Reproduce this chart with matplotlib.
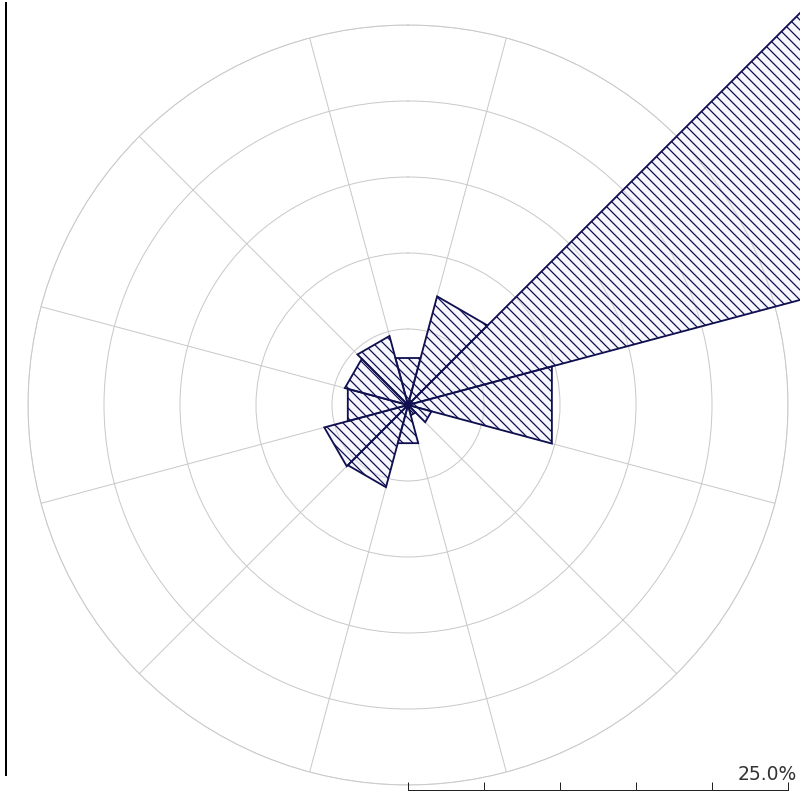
import numpy as np
import matplotlib
matplotlib.use("Agg")
import matplotlib.pyplot as plt
from matplotlib.lines import Line2D

# wind rose data: sector centres (deg clockwise from N) and frequency (%)
directions = [0, 30, 60, 90, 120, 150, 180, 210, 240, 270, 300, 330]
freq = [3.2, 7.4, 40.0, 9.8, 1.6, 0.7, 2.6, 5.6, 5.7, 4.1, 4.3, 4.7]
sector_width = 30
ring_values = [5, 10, 15, 20, 25]
spoke_angles = [15 + 30 * k for k in range(12)]
scale_ticks = [0, 5, 10, 15, 20, 25]
scale_label = "25.0%"

navy = "#101050"
grid_col = "#c9c9c9"

dpi = 60
plt.rcParams["hatch.linewidth"] = 1.5
plt.rcParams["hatch.color"] = navy

fig = plt.figure(figsize=(800 / dpi, 805 / dpi), dpi=dpi)
fig.patch.set_facecolor("white")

# polar rose, centre at (408, 405) px, outer ring 380 px
ax = fig.add_axes([28 / 800, 20 / 805, 760 / 800, 760 / 805], projection="polar")
ax.set_theta_zero_location("N")
ax.set_theta_direction(-1)
ax.set_ylim(0, 25)
ax.set_rgrids(ring_values, labels=[])
ax.set_thetagrids(spoke_angles, labels=[])
ax.grid(color=grid_col, lw=1.2)
ax.spines["polar"].set_color(grid_col)
ax.spines["polar"].set_linewidth(1.2)
ax.patch.set_alpha(0)

for d, f in zip(directions, freq):
    th = np.deg2rad([d - sector_width / 2, d + sector_width / 2])
    ax.fill([0, th[0], th[1], 0], [0, f, f, 0], facecolor=(0.9, 0.9, 1.0, 0.3),
            edgecolor=navy, hatch="\\\\", lw=2.2, clip_on=False, zorder=3)

# scale bar
sax = fig.add_axes([408 / 800, 15 / 805, 380 / 800, 30 / 805])
sax.set_xlim(0, 25)
sax.set_ylim(0, 1)
sax.set_xticks(scale_ticks)
sax.set_xticklabels([])
sax.set_yticks([])
sax.tick_params(axis="x", direction="in", length=9.6, width=1.2, color="#222222")
for s in ["top", "right", "left"]:
    sax.spines[s].set_visible(False)
sax.spines["bottom"].set_linewidth(1.2)
sax.spines["bottom"].set_color("#222222")
sax.patch.set_alpha(0)
sax.annotate(scale_label, xy=(25, 0), xytext=(10.8, 12), textcoords="offset points",
             ha="right", va="baseline", fontsize=22.5, color="#333333")

# left border line
fig.add_artist(Line2D([6 / 800, 6 / 800], [1 - 3 / 805, 1 - 775 / 805],
                      transform=fig.transFigure, color="black", lw=2.4))

fig.savefig("out.png", dpi=dpi)
